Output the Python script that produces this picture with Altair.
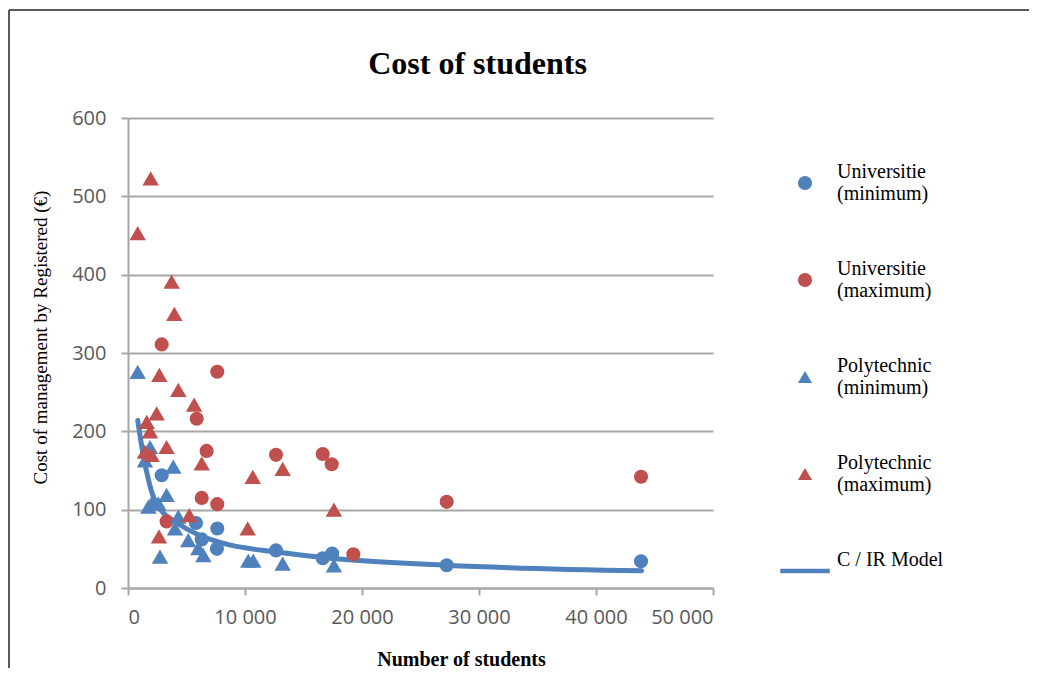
import altair as alt
import pandas as pd

# ---- data ----
uni_min_n = [2880, 5810, 6300, 7630, 7600, 12650, 16640, 17450, 27240, 43850]
uni_min_c = [144, 83, 62, 76, 50, 48, 38, 44, 29, 34]

uni_max_n = [2880, 7630, 5870, 6720, 12650, 16640, 17410, 6300, 7630, 3300, 19260, 27240, 43850]
uni_max_c = [311, 276, 216, 175, 170, 171, 158, 115, 107, 85, 43, 110, 142]

poly_min_n = [830, 1880, 1450, 3870, 3300, 2160, 1740, 2590, 4300, 4020, 5150, 6010, 6440, 2735,
              10280, 10710, 13220, 17600]
poly_min_c = [276, 180, 163, 155, 119, 112, 104, 108, 91, 76, 61, 51, 42, 40, 35, 35, 31, 29]

poly_max_n = [1940, 830, 3730, 3960, 2680, 4300, 5650, 2450, 1600, 1880, 3300, 1450, 2020, 6300,
              10660, 13220, 17600, 5240, 10230, 2650]
poly_max_c = [523, 453, 391, 350, 272, 253, 234, 223, 212, 200, 180, 174, 170, 159, 142, 152, 100,
              93, 76, 66]

model_n = [830, 1300, 1800, 2200, 2900, 4200, 6000, 8700, 12700, 17300, 27200, 43900]
model_c = [214, 170, 135, 115, 98, 83, 68, 55, 46, 38, 29, 22]

series_names = ["Universitie|(minimum)", "Universitie|(maximum)",
                "Polytechnic|(minimum)", "Polytechnic|(maximum)", "C / IR Model"]
series_colors = ["#4f81bd", "#c0504d", "#4f81bd", "#c0504d", "#4f81bd"]
series_shapes = ["circle", "circle", "triangle-up", "triangle-up",
                 "M-3.5,-0.33H3.5V0.33H-3.5Z"]

x_ticks = [0, 10000, 20000, 30000, 40000, 50000]
y_ticks = [0, 100, 200, 300, 400, 500, 600]

# ---- tables ----
rows = []
for name, ns, cs in [(series_names[0], uni_min_n, uni_min_c),
                     (series_names[1], uni_max_n, uni_max_c),
                     (series_names[2], poly_min_n, poly_min_c),
                     (series_names[3], poly_max_n, poly_max_c)]:
    for n, c in zip(ns, cs):
        rows.append({"students": n, "cost": c, "series": name})
pts = pd.DataFrame(rows)
model = pd.DataFrame({"students": model_n, "cost": model_c})

grey = "#a6a6a6"
W, H = 585, 470

x_enc = alt.X("students:Q",
              scale=alt.Scale(domain=[0, 50000], nice=False),
              axis=alt.Axis(values=x_ticks, grid=False,
                            labelExpr="replace(format(datum.value, ','), ',', ' ')",
                            title="Number of students",
                            titleFont="Liberation Serif", titleFontSize=20,
                            titleFontWeight="bold", titleColor="#000000",
                            titleX=333, titleY=77, titleBaseline="alphabetic",
                            titleAnchor="middle"))
y_enc = alt.Y("cost:Q",
              scale=alt.Scale(domain=[0, 600], nice=False),
              axis=alt.Axis(values=y_ticks, grid=True,
                            title="Cost of management by Registered (€)",
                            titleFont="Liberation Serif", titleFontSize=19,
                            titleFontWeight="normal", titleColor="#000000",
                            titleX=-88, titleY=219, titleBaseline="middle",
                            titleAnchor="middle", titleAngle=270))

line = alt.Chart(model).mark_line(color="#4f81bd", strokeWidth=5,
                                  interpolate="monotone", strokeCap="round").encode(
    x=x_enc, y=y_enc)

points = alt.Chart(pts).mark_point(filled=True, opacity=1, strokeWidth=0).encode(
    x=alt.X("students:Q"),
    y=alt.Y("cost:Q"),
    color=alt.Color("series:N",
                    scale=alt.Scale(domain=series_names, range=series_colors),
                    legend=alt.Legend(title=None, orient="none", legendX=667, legendY=55,
                                      labelExpr="split(datum.label, '|')",
                                      labelFont="Liberation Serif", labelFontSize=20,
                                      labelColor="#000000", labelLimit=300,
                                      labelBaseline="line-bottom",
                                      labelOffset=22, symbolSize=200, rowPadding=55,
                                      symbolStrokeWidth=0)),
    shape=alt.Shape("series:N",
                    scale=alt.Scale(domain=series_names, range=series_shapes)),
    size=alt.condition("indexof(datum.series, 'Poly') >= 0", alt.value(270), alt.value(200)),
)

frame_top = alt.Chart(model).mark_rule(color="#595959", strokeWidth=2, clip=False).encode(
    x=alt.value(-119), x2=alt.value(920), y=alt.value(-108))
frame_left = alt.Chart(model).mark_rule(color="#595959", strokeWidth=2, clip=False).encode(
    x=alt.value(-119), y=alt.value(-108), y2=alt.value(600))

chart = alt.layer(frame_top, frame_left, line, points).properties(
    width=W, height=H,
    autosize=alt.AutoSizeParams(type="none"),
    padding={"left": 120, "top": 110, "right": 316, "bottom": 80},
    title=alt.TitleParams("Cost of students", font="Liberation Serif", fontSize=32,
                          fontWeight="bold", color="#000000", anchor="middle",
                          frame="group", dx=57, offset=-72),
).configure_view(stroke=None).configure_axis(
    domainColor=grey, domainWidth=2, tickColor=grey, tickWidth=2, tickSize=7,
    gridColor=grey, gridWidth=2,
    labelFont="Open Sans", labelFontSize=20, labelColor="#595959", labelPadding=12,
).configure_axisY(labelPadding=15)

chart.save("out.html", embed_options={"renderer": "svg", "actions": False})
